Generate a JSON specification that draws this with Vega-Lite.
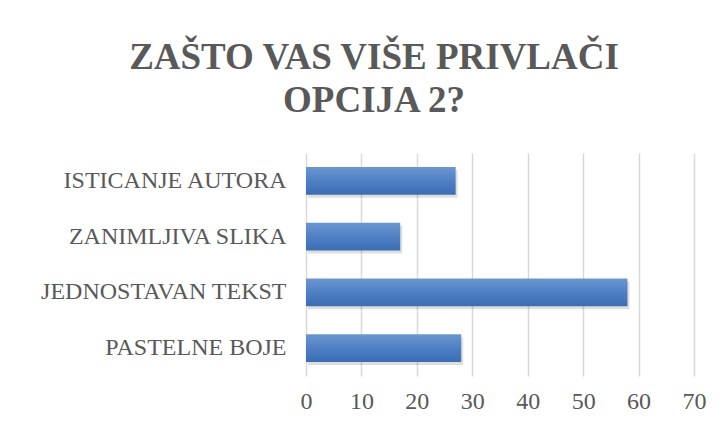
{
  "$schema": "https://vega.github.io/schema/vega-lite/v6.json",
  "autosize": {"type": "none"},
  "width": 388,
  "height": 223,
  "padding": {"left": 306, "top": 153, "right": 32, "bottom": 50},
  "background": "white",
  "title": {
    "text": ["ZAŠTO VAS VIŠE PRIVLAČI", "OPCIJA 2?"],
    "font": "Liberation Serif",
    "fontSize": 37,
    "fontWeight": "bold",
    "color": "#595959",
    "lineHeight": 43,
    "anchor": "middle",
    "frame": "group",
    "dx": -126,
    "offset": 33
  },
  "data": {
    "values": [
      {"kategorija": "ISTICANJE AUTORA", "vrijednost": 27},
      {"kategorija": "ZANIMLJIVA SLIKA", "vrijednost": 17},
      {"kategorija": "JEDNOSTAVAN TEKST", "vrijednost": 58},
      {"kategorija": "PASTELNE BOJE", "vrijednost": 28}
    ]
  },
  "encoding": {
    "y": {
      "field": "kategorija",
      "type": "nominal",
      "sort": null,
      "scale": {"paddingInner": 0.5, "paddingOuter": 0.25},
      "axis": {
        "title": null,
        "domain": false,
        "ticks": false,
        "labelFont": "Liberation Serif",
        "labelFontSize": 24,
        "labelColor": "#595959",
        "labelPadding": 20,
        "labelLimit": 400
      }
    },
    "x": {
      "field": "vrijednost",
      "type": "quantitative",
      "scale": {"domain": [0, 70], "nice": false},
      "axis": {
        "title": null,
        "values": [0, 10, 20, 30, 40, 50, 60, 70],
        "domain": false,
        "ticks": false,
        "grid": true,
        "gridColor": "#d9d9d9",
        "gridWidth": 1.5,
        "labelFlush": false,
        "labelFont": "Liberation Serif",
        "labelFontSize": 24,
        "labelColor": "#595959",
        "labelPadding": 13
      }
    }
  },
  "layer": [
    {
      "mark": {"type": "bar", "color": "#000000", "opacity": 0.13, "xOffset": 2, "yOffset": 3}
    },
    {
      "mark": {
        "type": "bar",
        "color": {
          "gradient": "linear",
          "x1": 0, "y1": 0, "x2": 0, "y2": 1,
          "stops": [
            {"offset": 0, "color": "#6c96d0"},
            {"offset": 0.5, "color": "#4f80c4"},
            {"offset": 1, "color": "#3b6db3"}
          ]
        }
      }
    }
  ],
  "config": {
    "view": {"stroke": null}
  }
}
